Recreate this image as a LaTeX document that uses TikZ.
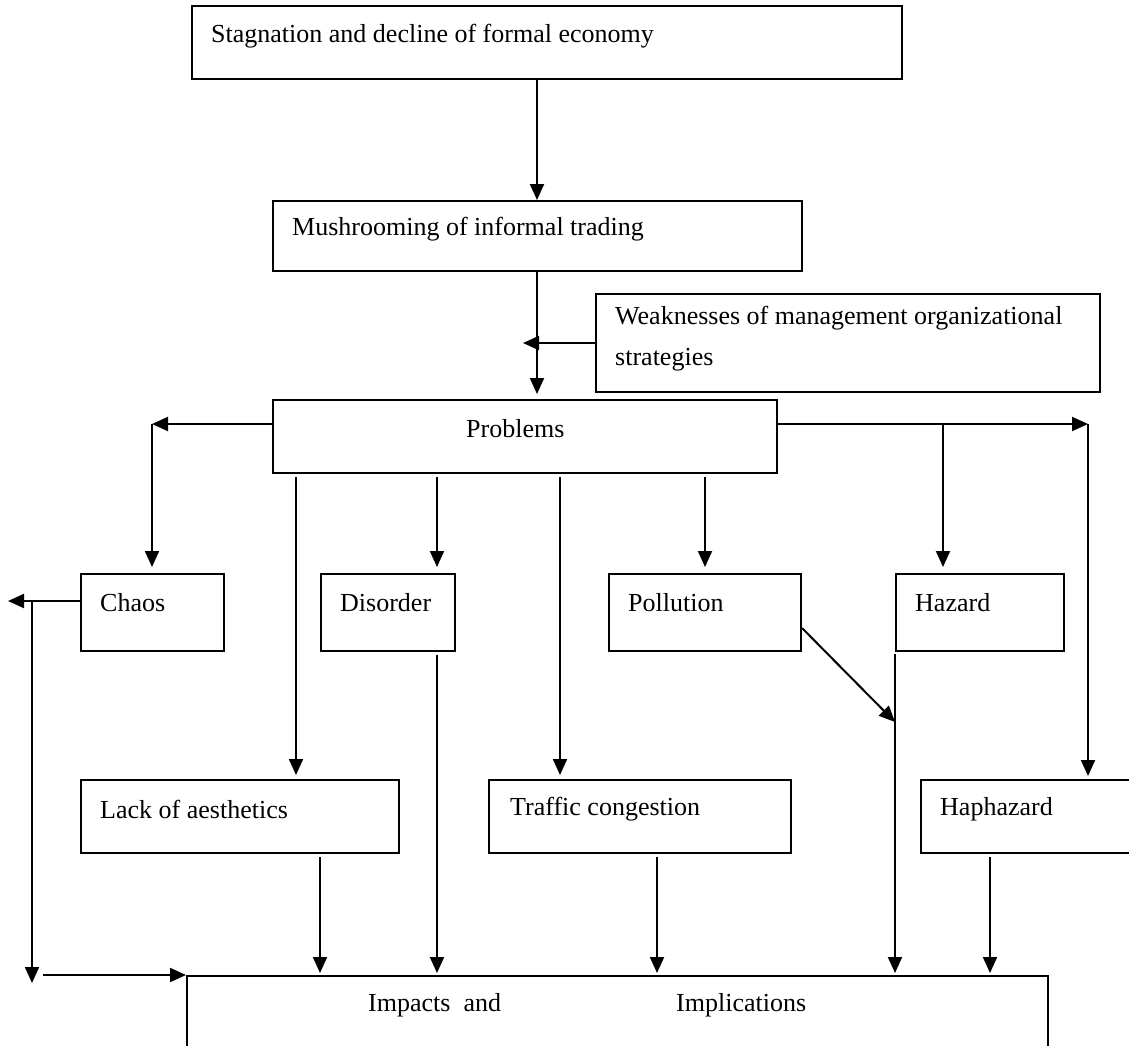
\documentclass[tikz,border=0pt]{standalone}
\usepackage{fontspec}
\setmainfont{Liberation Serif}
\usetikzlibrary{arrows.meta}
\begin{document}
\begin{tikzpicture}[x=1pt,y=-1pt,
  box/.style={draw, line width=2pt, rectangle, inner sep=0pt, anchor=north west},
  lbl/.style={anchor=west, inner sep=0pt, font=\fontsize{26}{41}\selectfont, align=left},
  arr/.style={line width=2pt, -{Triangle[length=16pt,width=14pt]}},
]
\useasboundingbox (0,0) rectangle (1129,1045);
\clip (0,0) rectangle (1129,1045);

% boxes
\node[box, minimum width=710, minimum height=73] (top) at (191,5) {};
\node[box, minimum width=529, minimum height=70] (mush) at (272,200) {};
\node[box, minimum width=504, minimum height=98] (weak) at (595,293) {};
\node[box, minimum width=504, minimum height=73] (prob) at (272,399) {};
\node[box, minimum width=143, minimum height=77] (chaos) at (80,573) {};
\node[box, minimum width=134, minimum height=77] (dis) at (320,573) {};
\node[box, minimum width=192, minimum height=77] (poll) at (608,573) {};
\node[box, minimum width=168, minimum height=77] (haz) at (895,573) {};
\node[box, minimum width=318, minimum height=73] (lack) at (80,779) {};
\node[box, minimum width=302, minimum height=73] (traf) at (488,779) {};
\node[box, minimum width=230, minimum height=73] (haph) at (920,779) {};
\node[box, minimum width=861, minimum height=90] (imp) at (186,975) {};

% labels
\node[lbl] (ttop) at (211,36) {Stagnation and decline of formal economy};
\node[lbl] (tmush) at (292,229) {Mushrooming of informal trading};
\node[lbl] (tweak) at (615,339) {Weaknesses of management organizational\\strategies};
\node[lbl] (tprob) at (466,429) {Problems};
\node[lbl] (tchaos) at (100,603) {Chaos};
\node[lbl] (tdis) at (340,603) {Disorder};
\node[lbl] (tpoll) at (628,603) {Pollution};
\node[lbl] (thaz) at (915,603) {Hazard};
\node[lbl] (tlack) at (100,809) {Lack of aesthetics};
\node[lbl] (ttraf) at (510,809) {Traffic congestion};
\node[lbl] (thaph) at (940,809) {Haphazard};
\node[lbl] (timp1) at (368,1005) {Impacts~~and};
\node[lbl] (timp2) at (676,1005) {Implications};

% column / junction coordinates
\coordinate (c537) at (537,0);
\coordinate (wtip) at (523,343);
\coordinate (pl) at (152,424);
\coordinate (pr) at (1088,424);
\coordinate (c943) at (943,424);
\coordinate (c296) at (296,0);
\coordinate (c437) at (437,0);
\coordinate (c560) at (560,0);
\coordinate (c705) at (705,0);
\coordinate (cl) at (8,601);
\coordinate (v1) at (32,601);
\coordinate (v2) at (32,983);
\coordinate (h1) at (43,975);
\coordinate (pd) at (800,628);
\coordinate (pe) at (895,722);
\coordinate (c320) at (320,0);
\coordinate (c657) at (657,0);
\coordinate (c895) at (895,0);
\coordinate (c990) at (990,0);

% connectors
\draw[arr] (top.south -| c537) -- (mush.north -| c537);
\draw[arr, shorten >=5pt] (mush.south -| c537) -- (prob.north -| c537);
\draw[arr] (weak.west |- wtip) -- (wtip);
\draw[arr] (prob.west |- pl) -- (pl);
\draw[arr, shorten >=6pt] (pl) -- (chaos.north -| pl);
\draw[arr] (prob.east |- pr) -- (pr);
\draw[arr, shorten >=3pt] (pr) -- (haph.north -| pr);
\draw[arr, shorten >=6pt] (c943) -- (haz.north -| c943);
\draw[arr, shorten <=3pt, shorten >=4pt] (prob.south -| c296) -- (lack.north -| c296);
\draw[arr, shorten <=3pt, shorten >=6pt] (prob.south -| c437) -- (dis.north -| c437);
\draw[arr, shorten <=3pt, shorten >=4pt] (prob.south -| c560) -- (traf.north -| c560);
\draw[arr, shorten <=3pt, shorten >=6pt] (prob.south -| c705) -- (poll.north -| c705);
\draw[arr] (chaos.west |- cl) -- (cl);
\draw[arr] (v1) -- (v2);
\draw[arr] (h1) -- (imp.north west);
\draw[arr] (poll.east |- pd) -- (pe);
\draw[arr, shorten <=2pt, shorten >=2pt] (haz.south -| c895) -- (imp.north -| c895);
\draw[arr, shorten <=3pt, shorten >=2pt] (lack.south -| c320) -- (imp.north -| c320);
\draw[arr, shorten <=3pt, shorten >=2pt] (dis.south -| c437) -- (imp.north -| c437);
\draw[arr, shorten <=3pt, shorten >=2pt] (traf.south -| c657) -- (imp.north -| c657);
\draw[arr, shorten <=3pt, shorten >=2pt] (haph.south -| c990) -- (imp.north -| c990);
\end{tikzpicture}
\end{document}
